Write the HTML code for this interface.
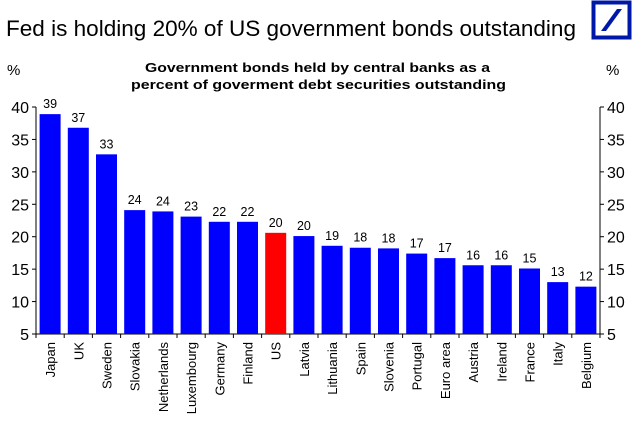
<!DOCTYPE html>
<html><head><meta charset="utf-8"><style>
body{margin:0;background:#fff;}
svg text{font-family:"Liberation Sans",sans-serif;}
</style></head><body>
<svg width="640" height="433" id="c">
<text x="6" y="36" font-size="22" textLength="570" lengthAdjust="spacingAndGlyphs" fill="#000">Fed is holding 20% of US government bonds outstanding</text>
<g>
<rect x="593.5" y="2.5" width="36" height="35" fill="none" stroke="#0018a8" stroke-width="4"/>
<polygon points="601,31 606,31 622,9 617,9" fill="#0018a8"/>
</g>
<text x="145" y="72" font-size="13" font-weight="bold" textLength="345" lengthAdjust="spacingAndGlyphs">Government bonds held by central banks as a</text>
<text x="131" y="89" font-size="13" font-weight="bold" textLength="375" lengthAdjust="spacingAndGlyphs">percent of goverment debt securities outstanding</text>
<text x="7" y="75" font-size="15">%</text>
<text x="606" y="75" font-size="15">%</text>
<g id="g"></g>
</svg>
<script>
const categories=["Japan","UK","Sweden","Slovakia","Netherlands","Luxembourg","Germany","Finland","US","Latvia","Lithuania","Spain","Slovenia","Portugal","Euro area","Austria","Ireland","France","Italy","Belgium"];
const values=[38.9,36.8,32.7,24.1,23.9,23.1,22.3,22.3,20.6,20.1,18.6,18.3,18.2,17.4,16.7,15.6,15.6,15.1,13.0,12.3];
const labels=["39","37","33","24","24","23","22","22","20","20","19","18","18","17","17","16","16","15","13","12"];
const ticks=[5,10,15,20,25,30,35,40];
const NS="http://www.w3.org/2000/svg",g=document.getElementById('g');
const L=36,R=600,T=107,B=334,ymin=5,ymax=40;
const y=v=>B-(v-ymin)/(ymax-ymin)*(B-T);
const slot=(R-L)/categories.length;
const x=i=>L+slot*i;
function el(t,a,txt){const e=document.createElementNS(NS,t);for(const k in a)e.setAttribute(k,a[k]);if(txt!=null)e.textContent=txt;g.appendChild(e);return e;}
let e;
e=el('line',{x1:L,y1:T,x2:L,y2:B,stroke:'#000'});


e=el('line',{x1:R,y1:T,x2:R,y2:B,stroke:'#000'});


e=el('line',{x1:L,y1:B,x2:R,y2:B,stroke:'#000'});


ticks.forEach(t=>{
 el('line',{x1:L-4,y1:y(t),x2:L,y2:y(t),stroke:'#000'});
 el('line',{x1:R,y1:y(t),x2:R+4,y2:y(t),stroke:'#000'});
 e=el('text',{x:L-7,y:y(t)+6,'font-size':16,'text-anchor':'end'},String(t));
 
 
 e=el('text',{x:R+7,y:y(t)+6,'font-size':16},String(t));
 
 
});
for(let i=0;i<=categories.length;i++)el('line',{x1:x(i),y1:B,x2:x(i),y2:B+4,stroke:'#000'});
categories.forEach((c,i)=>{
 const bw=21,bx=x(i)+(slot-bw)/2,cx=x(i)+slot/2;
 e=el('rect',{x:bx,y:y(values[i]),width:bw,height:B-y(values[i]),fill:c==="US"?"#ff0000":"#0000ff"});
 
 
 e=el('text',{x:cx,y:y(values[i])-6,'font-size':12.5,'text-anchor':'middle'},labels[i]);
 
 
 e=el('text',{x:0,y:0,'font-size':13,'text-anchor':'end',transform:`translate(${cx+5},${B+8}) rotate(-90)`},c);
 
 
});
</script>
</body></html>
